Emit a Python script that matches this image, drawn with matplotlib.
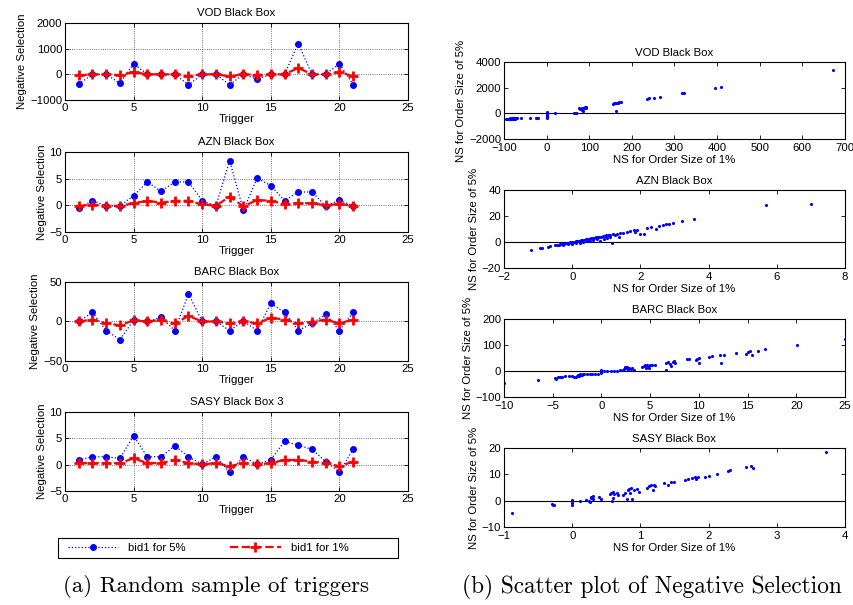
import matplotlib
matplotlib.use("Agg")
import matplotlib.pyplot as plt
from matplotlib.patches import Rectangle

plt.rcParams['font.family'] = ['Liberation Sans', 'DejaVu Sans']
plt.rcParams['xtick.direction'] = 'in'
plt.rcParams['ytick.direction'] = 'in'
plt.rcParams['xtick.top'] = True
plt.rcParams['ytick.right'] = True
plt.rcParams['axes.linewidth'] = 0.8

# ---- left column: random sample of triggers ----
triggers = list(range(1, 22))
stocks_left = ['VOD Black Box', 'AZN Black Box', 'BARC Black Box', 'SASY Black Box 3']

vod_5 = [-380, 0, 0, -350, 420, 0, 0, 0, -410, 0, 0, -410, 0, -190, 0, 0, 1200, 0, 0, 420, -400]
vod_1 = [-40, 0, 0, -30, 90, 0, 0, 0, -80, 0, 0, -80, 0, -20, 0, 0, 250, 0, 0, 90, -80]
azn_5 = [-0.57, 0.9, -0.1, -0.1, 1.8, 4.4, 2.6, 4.4, 4.4, 0.9, -0.1, 8.4, -0.95, 5.1, 3.7, 0.9, 2.5, 2.5, -0.1, 0.95, -0.05]
azn_1 = [-0.1, 0.15, -0.1, -0.1, 0.4, 0.85, 0.5, 0.85, 0.85, 0.2, -0.1, 1.65, -0.2, 1.0, 0.85, 0.25, 0.4, 0.4, 0.0, 0.25, -0.05]
barc_5 = [0, 11.5, -11.5, -23, 1.7, 0, 5.5, -11.5, 35, 0, 0, -11.5, 0.5, -11.5, 23, 11.5, -11.5, -2.5, 9, -11.5, 11.5]
barc_1 = [0, 2.5, -2.5, -4.7, 1.3, 0, 1.7, -2.5, 7, 0, 0, -2.5, 0.3, -2.5, 4.7, 2.5, -2.5, -0.5, 2.5, -2.5, 2.5]
sasy_5 = [0.9, 1.5, 1.5, 1.2, 5.45, 1.5, 1.5, 3.6, 1.5, 0.05, 1.5, -1.45, 1.5, 0.05, 0.95, 4.4, 3.7, 2.9, 0.6, -1.4, 2.9]
sasy_1 = [0.3, 0.3, 0.3, 0.3, 1.2, 0.3, 0.3, 0.9, 0.3, 0.05, 0.3, -0.3, 0.3, 0.05, 0.3, 0.9, 0.9, 0.6, 0.3, -0.3, 0.6]

left_5 = [vod_5, azn_5, barc_5, sasy_5]
left_1 = [vod_1, azn_1, barc_1, sasy_1]
left_ylims = [(-1000, 2000), (-5, 10), (-50, 50), (-5, 10)]
left_yticks = [[-1000, 0, 1000, 2000], [-5, 0, 5, 10], [-50, 0, 50], [-5, 0, 5, 10]]

# ---- right column: scatter of negative selection ----
stocks_right = ['VOD Black Box', 'AZN Black Box', 'BARC Black Box', 'SASY Black Box']

vod_x = [-95, -93, -91, -90, -88, -87, -86, -85, -84, -83, -82, -80, -79, -78, -77, -76, -75, -73, -72, -70,
         -60, -40, -25, -20, 0, 0, 0, 0, 0, 0, 0, 0, 20, 65, 68, 70, 76, 78, 80, 82, 83, 85, 86, 88, 90, 92, 93,
         155, 158, 160, 162, 163, 165, 168, 170, 175, 235, 240, 252, 265, 318, 322, 395, 408, 672]
vod_y = [-450, -430, -440, -420, -450, -400, -430, -410, -440, -420, -400, -430, -410, -390, -420, -400, -410, -400, -390, -380,
         -400, -380, -380, -380, -400, -300, -250, -200, -100, -50, 0, 100, 0, 50, 40, 50, 400, 300, 350, 250, 450, 200, 380,
         420, 480, 450, 500, 750, 780, 800, 820, 200, 800, 820, 850, 850, 1150, 1170, 1200, 1300, 1580, 1600, 1950, 2020, 3350]

azn_x = [-1.2, -0.95, -0.9, -0.7, -0.65, -0.5, -0.45, -0.4, -0.35, -0.3, -0.28, -0.25, -0.2, -0.15, -0.12, -0.1, -0.05,
         0.0, 0.0, 0.05, 0.1, 0.12, 0.15, 0.2, 0.22, 0.25, 0.3, 0.32, 0.35, 0.4, 0.42, 0.45, 0.5, 0.52, 0.55, 0.6,
         0.62, 0.65, 0.7, 0.72, 0.75, 0.8, 0.82, 0.85, 0.9, 0.92, 0.95, 1.0, 1.02, 1.05, 1.1, 1.12, 1.17, 1.2, 1.25,
         1.3, 1.37, 1.4, 1.5, 1.6, 1.7, 1.8, 1.85, 1.9, 1.98, 2.1, 2.18, 2.3, 2.47, 2.55, 2.65, 2.75, 2.85, 2.95,
         3.22, 3.56, 5.69, 7.0]
azn_y = [-6.5, -4.8, -4.5, -3.6, -3.2, -2.6, -2.2, -2.0, -1.8, -1.6, -2.4, -1.3, -1.0, -0.8, -1.5, -0.5, -0.3,
         0.0, -1.6, 0.2, 0.5, -0.8, 0.7, 1.0, -0.5, 1.2, 1.5, 0.2, 1.7, 2.0, 0.8, 2.2, 2.5, 1.0, 2.7, 3.0,
         1.5, 3.2, 3.5, 2.0, 3.7, 4.0, 1.0, 4.2, 4.5, 2.5, 4.7, 5.0, 3.0, 5.2, 5.5, 3.5, -0.8, 6.0, 5.0,
         6.3, 3.8, 6.8, 7.2, 7.6, 8.2, 9.0, 8.0, 9.5, 6.3, 6.5, 10.9, 11.5, 10.1, 12.6, 13.0, 13.5, 14.0, 14.5,
         15.9, 18.0, 28.4, 29.1]

barc_x = [-10, -6.5, -4.8, -4.7, -4.5, -4.3, -4.0, -3.7, -3.3, -3.0, -2.8, -2.6, -2.5, -2.4, -2.3, -2.2, -2.1, -2.0,
          -1.9, -1.8, -1.5, -1.2, -1.0, -0.7, -0.4, 0.0, 0.0, 0.0, 0.0, 0.3, 0.6, 1.0, 1.3, 1.6, 1.9, 2.2, 2.3, 2.4,
          2.5, 2.6, 2.7, 2.8, 3.0, 3.1, 3.3, 4.2, 4.4, 4.5, 4.6, 4.7, 4.8, 4.9, 5.0, 5.2, 5.5, 6.6, 6.6, 6.8, 7.0,
          7.1, 7.3, 7.5, 7.6, 8.8, 9.0, 9.7, 9.8, 10.0, 10.0, 11.0, 11.3, 12.2, 12.3, 12.6, 13.8, 14.8, 15.0, 15.3,
          15.5, 16.1, 16.8, 20.1, 25.0]
barc_y = [-48, -33, -25, -30, -23, -22, -22, -21, -20, -21, -22, -22, -20, -15, -18, -13, -17, -14,
          -12, -13, -12, -12, -12, -12, -10, -8, -3, 0, 2, 0, 0, 0, 1, 1, 2, 2, 8, 14,
          10, 15, 5, 13, 8, 12, 5, 15, 18, 22, 12, 25, 20, 10, 25, 22, 25, 30, 5, 35, 28,
          20, 35, 38, 30, 45, 45, 42, 48, 50, 32, 55, 57, 62, 30, 62, 70, 66, 72, 78,
          63, 77, 85, 101, 123]

sasy_x = [-0.89, -0.29, -0.28, -0.27, 0.0, 0.0, 0.0, 0.0, 0.12, 0.2, 0.25, 0.26, 0.27, 0.28, 0.3, 0.3, 0.4, 0.42,
          0.55, 0.57, 0.58, 0.6, 0.6, 0.62, 0.65, 0.67, 0.75, 0.78, 0.8, 0.82, 0.84, 0.85, 0.86, 0.87, 0.9, 0.95,
          0.98, 1.1, 1.12, 1.15, 1.18, 1.2, 1.22, 1.35, 1.4, 1.45, 1.5, 1.65, 1.7, 1.75, 1.8, 1.82, 1.85, 1.95,
          2.0, 2.12, 2.28, 2.32, 2.55, 2.62, 2.65, 3.72]
sasy_y = [-4.5, -1.2, -1.5, -1.8, 0.3, 0.0, -1.0, -1.8, 0.0, 0.2, 0.0, -0.5, 1.0, 1.5, 0.5, 1.8, 1.5, 0.5,
          2.5, 3.0, 0.0, 3.2, 1.0, 2.5, 2.8, 2.0, 2.2, 3.0, 0.5, 4.0, 4.5, 3.0, 4.8, 0.5, 4.2, 4.5,
          3.2, 4.8, 5.5, 5.8, 4.0, 6.0, 5.5, 6.8, 6.0, 7.2, 7.0, 8.0, 8.4, 8.6, 8.8, 8.2, 9.0, 9.0,
          9.2, 10.3, 11.2, 11.5, 12.6, 13.0, 12.5, 18.5]

right_x = [vod_x, azn_x, barc_x, sasy_x]
right_y = [vod_y, azn_y, barc_y, sasy_y]
right_xlims = [(-100, 700), (-2, 8), (-10, 25), (-1, 4)]
right_ylims = [(-2000, 4000), (-20, 40), (-100, 200), (-10, 20)]
right_yticks = [[-2000, 0, 2000, 4000], [-20, 0, 20, 40], [-100, 0, 100, 200], [-10, 0, 10, 20]]

fig = plt.figure(figsize=(8.54, 6.05), dpi=100)
W, H = 854, 605

def px_axes(x0, y0, x1, y1):
    return fig.add_axes([x0 / W, 1 - y1 / H, (x1 - x0) / W, (y1 - y0) / H])

left_boxes = [(65, 23, 408, 100), (65, 152, 408, 232), (65, 282, 408, 361), (65, 412, 408, 491)]
right_boxes = [(504, 62, 845, 139), (504, 190, 845, 268), (504, 319, 845, 397), (504, 448, 845, 527)]

fs = 8.2
handles = None
for i in range(4):
    ax = px_axes(*left_boxes[i])
    h1, = ax.plot(triggers, left_5[i], color='blue', linestyle=':', linewidth=0.9,
                  marker='o', markersize=4, label='bid1 for 5%')
    h2, = ax.plot(triggers, left_1[i], color='red', linestyle='--', linewidth=1.6,
                  marker='+', markersize=7, markeredgewidth=2, label='bid1 for 1%')
    if handles is None:
        handles = [h1, h2]
    ax.set_xlim(0, 25)
    ax.set_ylim(*left_ylims[i])
    ax.set_yticks(left_yticks[i])
    ax.set_xticks([0, 5, 10, 15, 20, 25])
    ax.grid(True, linestyle=':', color='black', linewidth=0.6, alpha=0.7)
    ax.tick_params(labelsize=fs, length=3, width=0.6, pad=2)
    ax.set_title(stocks_left[i], fontsize=fs, pad=5)
    ax.set_xlabel('Trigger', fontsize=fs, labelpad=1)
    ax.set_ylabel('Negative Selection', fontsize=fs, labelpad=2)

for i in range(4):
    ax = px_axes(*right_boxes[i])
    ax.axhline(0, color='black', linewidth=0.8)
    ax.plot(right_x[i], right_y[i], linestyle='none', marker='.', markersize=2.5, color='blue')
    ax.set_xlim(*right_xlims[i])
    ax.set_ylim(*right_ylims[i])
    ax.set_yticks(right_yticks[i])
    ax.tick_params(labelsize=fs, length=3, width=0.6, pad=2)
    ax.tick_params(axis='x', pad=3)
    ax.set_title(stocks_right[i], fontsize=fs, pad=4)
    ax.set_xlabel('NS for Order Size of 1%', fontsize=fs, labelpad=1)
    ax.set_ylabel('NS for Order Size of 5%', fontsize=fs, labelpad=2)

# legend box drawn separately, MATLAB-style with free space on the right
leg = fig.legend(handles, ['bid1 for 5%', 'bid1 for 1%'], ncol=2, fontsize=fs,
                 loc='center left', bbox_to_anchor=(68 / W, 1 - 548 / H),
                 frameon=False, handlelength=4.4, handletextpad=0.9,
                 columnspacing=3.9, borderpad=0, borderaxespad=0)
fig.patches.append(Rectangle((58 / W, 1 - 558 / H), 340 / W, 20 / H,
                             transform=fig.transFigure, fill=False,
                             edgecolor='black', linewidth=0.8))

fig.text(216 / W, 1 - 587 / H, '(a) Random sample of triggers', fontsize=16.5,
         family='cmr10', ha='center', va='center')
fig.text(652 / W, 1 - 587 / H, '(b) Scatter plot of Negative Selection', fontsize=16.8,
         family='cmr10', ha='center', va='center')

fig.savefig('out.png', dpi=100)
